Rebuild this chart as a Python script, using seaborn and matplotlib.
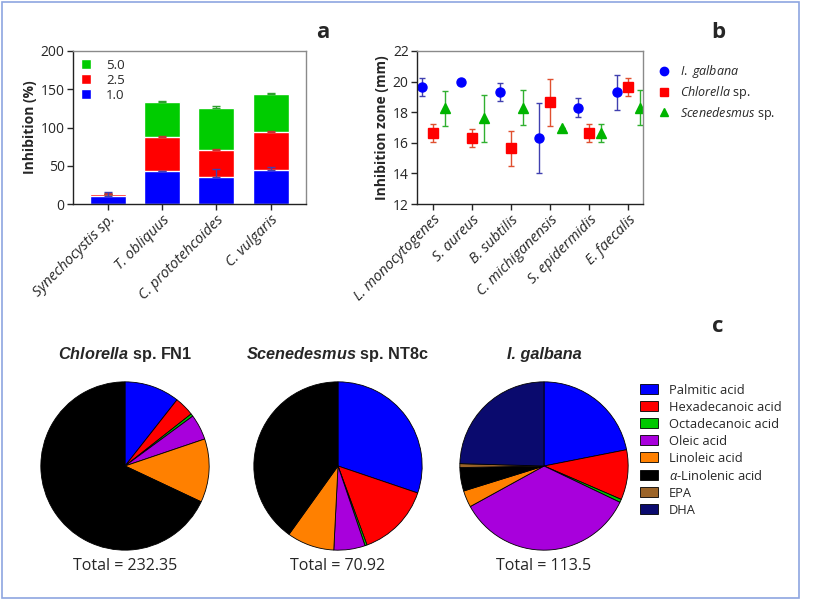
import matplotlib
matplotlib.use("Agg")
import matplotlib.pyplot as plt
from matplotlib.patches import Patch, Rectangle
from matplotlib.lines import Line2D
import numpy as np
import pandas as pd
import seaborn as sns

# panel a: inhibition (%) per strain, stacked by concentration
strains = ["Synechocystis sp.", "T. obliquus", "C. prototehcoides", "C. vulgaris"]
inhib_1 = [10, 43, 35, 45]
inhib_25 = [3, 44, 36, 49]
inhib_5 = [0, 46, 54, 50]
err_1 = [6, 0.5, 11, 4]
err_25 = [1, 1.5, 1, 1]
err_5 = [0, 2, 3.5, 0.5]

# panel b: inhibition zone (mm)
bacteria = ["L. monocytogenes", "S. aureus", "B. subtilis",
            "C. michiganensis", "S. epidermidis", "E. faecalis"]
zone_galbana = [19.65, 20.0, 19.3, 16.3, 18.3, 19.3]
err_galbana = [0.6, 0.0, 0.6, 2.3, 0.6, 1.15]
zone_chlorella = [16.65, 16.3, 15.65, 18.65, 16.65, 19.65]
err_chlorella = [0.6, 0.6, 1.15, 1.55, 0.6, 0.6]
zone_scened = [18.25, 17.6, 18.3, 16.95, 16.65, 18.3]
err_scened = [1.15, 1.55, 1.15, 0.0, 0.6, 1.15]

# panel c: fatty acid composition (%)
acids = ["Palmitic acid", "Hexadecanoic acid", "Octadecanoic acid", "Oleic acid",
         "Linoleic acid", r"$\alpha$-Linolenic acid", "EPA", "DHA"]
pct_chlorella = [10.6, 3.8, 0.5, 4.9, 12.2, 68.0, 0, 0]
pct_scened = [30.2, 14.2, 0.4, 6.0, 9.1, 40.1, 0, 0]
pct_galbana = [21.9, 9.6, 0.6, 34.9, 3.2, 4.5, 0.75, 24.55]
totals = ["232.35", "70.92", "113.5"]

acid_colors = ["#0000ff", "#ff0000", "#00c800", "#a800dc", "#ff8000",
               "#000000", "#9c6428", "#0a0a6e"]

sns.set_theme(style="ticks")
plt.rcParams["font.family"] = ["Open Sans", "DejaVu Sans"]
plt.rcParams["mathtext.fontset"] = "custom"
plt.rcParams["mathtext.it"] = "Open Sans:italic"
plt.rcParams["mathtext.rm"] = "Open Sans"
plt.rcParams["mathtext.bfit"] = "Liberation Sans:bold:italic"

W, H = 813, 605
fig = plt.figure(figsize=(W / 100, H / 100), dpi=100)


def px_axes(x0, y0, x1, y1):
    return fig.add_axes([x0 / W, 1 - y1 / H, (x1 - x0) / W, (y1 - y0) / H])


def style_box(ax):
    for s in ["top", "right"]:
        ax.spines[s].set_color("#8a8a8a")
    for s in ["left", "bottom"]:
        ax.spines[s].set_color("#222222")
    for s in ax.spines.values():
        s.set_linewidth(1.0)
    ax.tick_params(direction="out", length=4, width=1, labelsize=10, pad=2)


# ---- panel a
axa = px_axes(73, 51, 306, 204)
df_a = pd.DataFrame({"strain": strains, "c1": inhib_1, "c25": inhib_25, "c5": inhib_5})
df_a["top25"] = df_a["c1"] + df_a["c25"]
df_a["top5"] = df_a["top25"] + df_a["c5"]

sns.barplot(data=df_a, x="strain", y="top5", color="#00cc00", saturation=1,
            width=0.66, ax=axa)
sns.barplot(data=df_a, x="strain", y="top25", color="#ff0000", saturation=1,
            width=0.66, ax=axa)
sns.barplot(data=df_a, x="strain", y="c1", color="#0000ff", saturation=1,
            width=0.66, ax=axa)
pos = np.arange(len(strains))
axa.errorbar(pos, df_a["top5"], yerr=[np.zeros(4), err_5], fmt="none",
             ecolor="#2ea02e", elinewidth=1, capsize=3)
axa.errorbar(pos, df_a["top25"], yerr=[np.zeros(4), err_25], fmt="none",
             ecolor="#c83232", elinewidth=1, capsize=3)
axa.errorbar(pos, df_a["c1"], yerr=[np.zeros(4), err_1], fmt="none",
             ecolor="#4040b0", elinewidth=1, capsize=3)
axa.set_xlim(-0.64, 3.65)
axa.set_ylim(0, 200)
axa.set_yticks([0, 50, 100, 150, 200])
axa.set_xlabel("")
axa.set_ylabel("Inhibition (%)", fontsize=10, fontweight="bold", labelpad=3)
style_box(axa)
axa.set_xticks(pos)
axa.set_xticklabels(strains, rotation=45, ha="right", rotation_mode="anchor",
                    fontstyle="italic", fontsize=10.5)
leg_a = [Patch(facecolor="#00cc00", label="5.0"),
         Patch(facecolor="#ff0000", label="2.5"),
         Patch(facecolor="#0000ff", label="1.0")]
axa.legend(handles=leg_a, loc="upper left", frameon=False, fontsize=9.5,
           handlelength=0.8, handleheight=0.8, handletextpad=1.1,
           labelspacing=0.15, borderaxespad=0.3, borderpad=0.3)

# ---- panel b
axb = px_axes(417, 51, 643, 204)
xb = np.arange(len(bacteria))
axb.errorbar(xb - 0.3, zone_galbana, yerr=err_galbana, fmt="o", color="#0000ff",
             ecolor="#4040b0", markersize=6.5, elinewidth=1, capsize=2)
axb.errorbar(xb, zone_chlorella, yerr=err_chlorella, fmt="s", color="#ff0000",
             ecolor="#e05030", markersize=6.5, elinewidth=1, capsize=2)
axb.errorbar(xb + 0.3, zone_scened, yerr=err_scened, fmt="^", color="#00b400",
             ecolor="#30b030", markersize=6.5, elinewidth=1, capsize=2)
sns.despine(ax=axb, top=False, right=False)
axb.set_xlim(-0.42, 5.38)
axb.set_ylim(12, 22)
axb.set_yticks([12, 14, 16, 18, 20, 22])
axb.set_ylabel("Inhibition zone (mm)", fontsize=10, fontweight="bold", labelpad=3)
style_box(axb)
axb.set_xticks(xb)
axb.set_xticklabels(bacteria, rotation=45, ha="right", rotation_mode="anchor",
                    fontstyle="italic", fontsize=10.5)
leg_b = [Line2D([], [], marker="o", ls="none", color="#0000ff", markersize=6,
                label=r"$\mathit{I.}$ $\mathit{galbana}$"),
         Line2D([], [], marker="s", ls="none", color="#ff0000", markersize=6,
                label=r"$\mathit{Chlorella}$ sp."),
         Line2D([], [], marker="^", ls="none", color="#00b400", markersize=6,
                label=r"$\mathit{Scenedesmus}$ sp.")]
fig.legend(handles=leg_b, loc="upper left", bbox_to_anchor=(646 / W, 1 - 52 / H),
           frameon=False, fontsize=9, handlelength=1.0, handletextpad=0.8,
           labelspacing=0.3)

# ---- panel c
pies = [(125, "$\\mathbfit{Chlorella}$ sp. FN1", pct_chlorella, totals[0], "normal"),
        (338, "$\\mathbfit{Scenedesmus}$ sp. NT8c", pct_scened, totals[1], "normal"),
        (544, "I. galbana", pct_galbana, totals[2], "italic")]
r = 85
cy = 466
for cx, title, vals, total, tstyle in pies:
    ax = px_axes(cx - r, cy - r, cx + r, cy + r)
    keep = [i for i, v in enumerate(vals) if v > 0]
    ax.pie([vals[i] for i in keep], colors=[acid_colors[i] for i in keep],
           startangle=90, counterclock=False, radius=1,
           wedgeprops=dict(edgecolor="black", linewidth=0.6))
    ax.set_xlim(-1.01, 1.01)
    ax.set_ylim(-1.01, 1.01)
    ax.set_aspect("equal")
    fig.text(cx / W, 1 - 354 / H, title, ha="center", va="center",
             family="Liberation Sans", fontweight="bold", fontstyle=tstyle,
             fontsize=11.7)
    fig.text(cx / W, 1 - 566 / H, "Total = " + total, ha="center", va="center",
             fontsize=11.5)

leg_c = [Patch(facecolor=c, edgecolor="black", linewidth=0.6, label=a)
         for a, c in zip(acids, acid_colors)]
fig.legend(handles=leg_c, loc="upper left", bbox_to_anchor=(628 / W, 1 - 372 / H),
           frameon=False, fontsize=9.3, handlelength=1.4, handleheight=0.8,
           handletextpad=0.85, labelspacing=0.31)

# panel letters
fig.text(323 / W, 1 - 33 / H, "a", ha="center", va="center", fontsize=16, fontweight="bold")
fig.text(718 / W, 1 - 33 / H, "b", ha="center", va="center", fontsize=16, fontweight="bold")
fig.text(718 / W, 1 - 327 / H, "c", ha="center", va="center", fontsize=16, fontweight="bold")

# outer frame
fig.patches.append(Rectangle((2 / W, 1 - 598 / H), 797 / W, 596 / H,
                             transform=fig.transFigure, fill=False,
                             edgecolor="#8ea6e0", linewidth=1.2))

fig.savefig("out.png", dpi=100)
